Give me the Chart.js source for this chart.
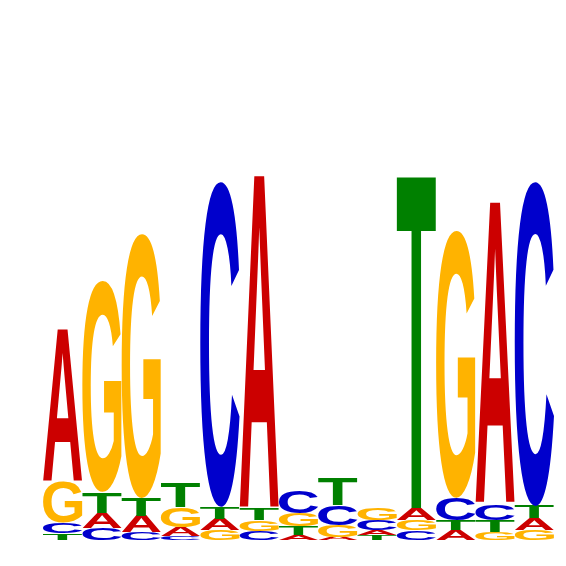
<!DOCTYPE html>
<html>
<head>
<meta charset="utf-8">
<script src="https://cdn.jsdelivr.net/npm/chart.js@4/dist/chart.umd.min.js"></script>
<style>
  html, body { margin: 0; padding: 0; background: #fff; }
</style>
</head>
<body>
<canvas id="logo" width="566" height="566"></canvas>
<script>
// letter heights (bits) per position
const positions = ['1','2','3','4','5','6','7','8','9','10','11','12','13'];
const A = [0.591, 0.058, 0.064, 0.035, 0.043, 1.298, 0.019, 0.012, 0.020, 0.047, 0.038, 1.176, 0.045];
const C = [0.040, 0.047, 0.031, 0.016, 1.266, 0.035, 0.089, 0.078, 0.039, 0.038, 0.086, 0.062, 1.263];
const G = [0.160, 0.823, 1.029, 0.078, 0.039, 0.042, 0.051, 0.047, 0.043, 0.040, 1.041, 0.031, 0.039];
const T = [0.026, 0.082, 0.068, 0.093, 0.047, 0.044, 0.035, 0.105, 0.018, 1.299, 0.040, 0.047, 0.048];

const baseColors = {A: '#CC0000', C: '#0000CC', G: '#FFB300', T: '#008000'};

// smallest letter at the bottom of each column
const columns = positions.map((p, i) => {
  return [['A', A[i]], ['C', C[i]], ['G', G[i]], ['T', T[i]]].sort((a, b) => a[1] - b[1]);
});

const datasets = [0, 1, 2, 3].map(r => ({
  label: 'rank ' + r,
  data: columns.map(col => col[r][1]),
  letters: columns.map(col => col[r][0]),
  backgroundColor: 'rgba(0,0,0,0)',
  borderWidth: 0,
  barPercentage: 1,
  categoryPercentage: 1
}));

// stretch each letter glyph over its bar
const logoLetters = {
  id: 'logoLetters',
  afterDatasetsDraw(chart) {
    const ctx = chart.ctx;
    chart.data.datasets.forEach((ds, di) => {
      const meta = chart.getDatasetMeta(di);
      meta.data.forEach((bar, i) => {
        const letter = ds.letters[i];
        const top = Math.min(bar.y, bar.base);
        const h = Math.abs(bar.base - bar.y);
        if (h < 0.3) return;
        const w = bar.width;
        const left = bar.x - w / 2;
        ctx.save();
        ctx.font = 'bold 200px "Liberation Sans", Arial, sans-serif';
        ctx.textAlign = 'left';
        ctx.textBaseline = 'alphabetic';
        const m = ctx.measureText(letter);
        const gw = m.actualBoundingBoxLeft + m.actualBoundingBoxRight;
        const gh = m.actualBoundingBoxAscent + m.actualBoundingBoxDescent;
        ctx.translate(left, top);
        ctx.scale(w / gw, h / gh);
        ctx.fillStyle = baseColors[letter];
        ctx.fillText(letter, m.actualBoundingBoxLeft, m.actualBoundingBoxAscent);
        ctx.restore();
      });
    });
  }
};

new Chart("logo", {
  type: 'bar',
  data: {
    labels: positions,
    datasets: datasets
  },
  options: {
    responsive: false,
    animation: false,
    layout: {
      padding: {left: 43, right: 12, top: 26, bottom: 26}
    },
    plugins: {
      legend: { display: false },
      tooltip: { enabled: false }
    },
    scales: {
      x: { stacked: true, display: false },
      y: { stacked: true, display: false, min: 0, max: 2 }
    }
  },
  plugins: [logoLetters]
});
</script>
</body>
</html>
